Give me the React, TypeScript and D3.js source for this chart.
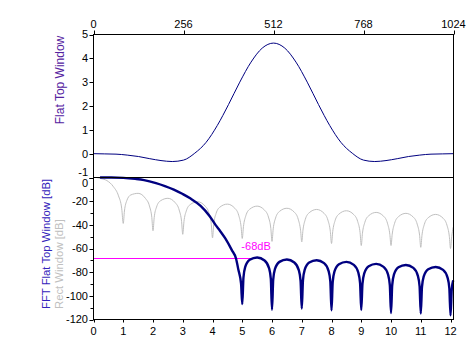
import React from 'react';
import * as d3 from 'd3';

// top panel: flat top window samples (n, value)
const windowN = [0, 32, 64, 96, 128, 160, 192, 224, 256, 288, 320, 352, 384, 416, 448, 480, 512,
  544, 576, 608, 640, 672, 704, 736, 768, 800, 832, 864, 896, 928, 960, 992, 1024];
const windowValues = [0, -0.01, -0.02, -0.06, -0.12, -0.21, -0.29, -0.33, -0.27, 0.02, 0.47, 1.18, 2.06, 3.0, 3.84, 4.43, 4.64,
  4.43, 3.84, 3.0, 2.06, 1.18, 0.47, 0.02, -0.27, -0.33, -0.29, -0.21, -0.12, -0.06, -0.02, -0.01, 0];

// bottom panel: rect window spectrum [bin, dB]
const rectSpectrum: [number, number][] = [
  [0.1, 0], [0.25, -0.9], [0.45, -2.6], [0.67, -7.8], [0.84, -15.5], [0.95, -26.5], [1, -38.8],
  [1.04, -28.3], [1.12, -19.5], [1.25, -14.8], [1.5, -13.4], [1.75, -17.8], [1.88, -24], [1.96, -33.8], [2, -45],
  [2.04, -33.9], [2.12, -24.9], [2.25, -19.7], [2.5, -17.6], [2.75, -21.4], [2.88, -27.5], [2.96, -37.1], [3, -48],
  [3.04, -37.3], [3.12, -28.2], [3.25, -22.9], [3.5, -20.5], [3.75, -24.1], [3.88, -30.1], [3.96, -39.6], [4, -51],
  [4.04, -39.6], [4.12, -30.4], [4.25, -25], [4.5, -22.5], [4.75, -26], [4.88, -31.9], [4.96, -41.4], [5, -51.5],
  [5.04, -41.5], [5.12, -32.3], [5.25, -26.8], [5.5, -24.2], [5.75, -27.6], [5.88, -33.4], [5.96, -43], [6, -54],
  [6.04, -43.4], [6.12, -34.2], [6.25, -28.7], [6.5, -26], [6.75, -29.3], [6.88, -35.2], [6.96, -44.6], [7, -54.4],
  [7.04, -44.5], [7.12, -35.3], [7.25, -29.8], [7.5, -27], [7.75, -30.3], [7.88, -36.1], [7.96, -45.5], [8, -55.8],
  [8.04, -45.7], [8.12, -36.4], [8.25, -30.9], [8.5, -28.1], [8.75, -31.4], [8.88, -37.2], [8.96, -46.6], [9, -57.5],
  [9.04, -47.1], [9.12, -37.9], [9.25, -32.3], [9.5, -29.5], [9.75, -32.7], [9.88, -38.6], [9.96, -48], [10, -57.5],
  [10.04, -47.9], [10.12, -38.7], [10.25, -33.1], [10.5, -30.3], [10.75, -33.5], [10.88, -39.4], [10.96, -48.8], [11, -59],
  [11.04, -48.9], [11.12, -39.6], [11.25, -34], [11.5, -31.2], [11.75, -34.4], [11.88, -40.3], [11.96, -49.7], [12, -60],
  [12.04, -50], [12.09, -42],
];

// bottom panel: flat top window spectrum [bin, dB]
const flatTopSpectrum: [number, number][] = [
  [0.22, 0], [0.6, 0], [1, -0.3], [1.4, -1.2], [1.7, -2.2], [2.1, -4.7], [2.4, -7.2], [2.7, -10.2], [3, -14],
  [3.25, -17.6], [3.6, -24], [3.9, -32.5], [4.1, -40], [4.25, -45], [4.43, -51.5], [4.65, -61.4], [4.79, -68.5],
  [4.87, -78], [4.96, -89.7], [5, -107],
  [5.04, -84.6], [5.1, -75.6], [5.25, -69.6], [5.5, -67.6], [5.75, -70.1], [5.9, -76.6], [5.96, -85.6], [6, -111.7],
  [6.04, -86.3], [6.1, -77.3], [6.25, -71.3], [6.5, -69.3], [6.75, -71.8], [6.9, -78.3], [6.96, -87.3], [7, -110.8],
  [7.04, -86.9], [7.1, -77.9], [7.25, -71.9], [7.5, -69.9], [7.75, -72.4], [7.9, -78.9], [7.96, -87.9], [8, -112.3],
  [8.04, -88.3], [8.1, -79.3], [8.25, -73.3], [8.5, -71.3], [8.75, -73.8], [8.9, -80.3], [8.96, -89.3], [9, -112],
  [9.04, -90], [9.1, -81], [9.25, -75], [9.5, -73], [9.75, -75.5], [9.9, -82], [9.96, -91], [10, -114.5],
  [10.04, -90.9], [10.1, -81.9], [10.25, -75.9], [10.5, -73.9], [10.75, -76.4], [10.9, -82.9], [10.96, -91.9], [11, -115],
  [11.04, -92.6], [11.1, -83.6], [11.25, -77.6], [11.5, -75.6], [11.75, -78.1], [11.9, -84.6], [11.96, -93.6], [12, -116.5],
  [12.04, -95], [12.09, -87],
];

const markerDb = -68;
const markerEndBin = 5.45;
const markerLabel = '-68dB';

const topTicks = [0, 256, 512, 768, 1024];
const topYTicks = [-1, 0, 1, 2, 3, 4, 5];
const botXTicks = [0, 1, 2, 3, 4, 5, 6, 7, 8, 9, 10, 11, 12];
const botYTicks = [0, -20, -40, -60, -80, -100, -120];
const botYMinor = [-10, -30, -50, -70, -90, -110];

const W = 471;
const H = 362;
const font = '"Liberation Sans", Arial, sans-serif';

export default function App() {
  const left = 93.5, right = 453.5;
  const topY = 34.5, midY = 177.5, botY = 319.5;

  const xTop = d3.scaleLinear().domain([0, 1024]).range([left, right]);
  const yTop = d3.scaleLinear().domain([-1, 5]).range([midY, topY]);
  const xBot = d3.scaleLinear().domain([0, 12.1]).range([left, right]);
  const yBot = d3.scaleLinear().domain([-120, 0]).range([botY, midY]);

  const windowLine = d3.line<number>()
    .x((_, i) => xTop(windowN[i]))
    .y(d => yTop(d))
    .curve(d3.curveMonotoneX);

  const specLine = d3.line<[number, number]>()
    .x(d => xBot(d[0]))
    .y(d => yBot(d[1]))
    .curve(d3.curveMonotoneX);

  // the "-1" and "0" labels meet at the panel border, so nudge them apart
  const labelShift = (t: number, panel: 'top' | 'bot') =>
    panel === 'top' && t === -1 ? -5.5 : panel === 'bot' && t === 0 ? 6 : 0;

  return (
    <svg width={W} height={H} style={{ position: 'absolute', left: 0, top: 0, background: '#fff' }}
      fontFamily={font}>
      {/* curves */}
      <path d={windowLine(windowValues) || ''} fill="none" stroke="#000080" strokeWidth={1} />
      <path d={specLine(rectSpectrum) || ''} fill="none" stroke="#c0c0c0" strokeWidth={1} />
      <line x1={left} x2={xBot(markerEndBin)} y1={Math.round(yBot(markerDb)) + 0.5} y2={Math.round(yBot(markerDb)) + 0.5}
        stroke="#ff00ff" strokeWidth={1} />
      <path d={specLine(flatTopSpectrum) || ''} fill="none" stroke="#000080" strokeWidth={2.4} strokeLinejoin="round" />
      <text x={xBot(4.97)} y={yBot(markerDb) - 8} fontSize={11} fill="#ff00ff">{markerLabel}</text>

      {/* frame */}
      <rect x={left} y={topY} width={right - left} height={botY - topY} fill="none" stroke="#000" strokeWidth={1} />
      <line x1={left} x2={right} y1={midY} y2={midY} stroke="#000" strokeWidth={1} />

      {/* top x axis */}
      {topTicks.map(t => (
        <g key={'tx' + t}>
          <line x1={Math.round(xTop(t)) + 0.5} x2={Math.round(xTop(t)) + 0.5} y1={topY} y2={topY - 4} stroke="#000" />
          <text x={xTop(t)} y={28} fontSize={11} textAnchor="middle" fill="#000">{t}</text>
        </g>
      ))}

      {/* top y axis */}
      {topYTicks.map(t => (
        <g key={'ty' + t}>
          <line x1={left} x2={left - 4} y1={Math.round(yTop(t)) + 0.5} y2={Math.round(yTop(t)) + 0.5} stroke="#000" />
          <text x={88} y={yTop(t) + labelShift(t, 'top')} dy="0.35em" fontSize={11} textAnchor="end" fill="#000">{t}</text>
        </g>
      ))}

      {/* bottom y axis */}
      {botYTicks.map(t => (
        <g key={'by' + t}>
          <line x1={left} x2={left - 4} y1={Math.round(yBot(t)) + 0.5} y2={Math.round(yBot(t)) + 0.5} stroke="#000" />
          <text x={88} y={yBot(t) + labelShift(t, 'bot')} dy="0.35em" fontSize={11} textAnchor="end" fill="#000">{t}</text>
        </g>
      ))}
      {botYMinor.map(t => (
        <line key={'bm' + t} x1={left} x2={left - 3} y1={Math.round(yBot(t)) + 0.5} y2={Math.round(yBot(t)) + 0.5} stroke="#000" />
      ))}

      {/* bottom x axis */}
      {botXTicks.map(t => (
        <g key={'bx' + t}>
          <line x1={Math.round(xBot(t)) + 0.5} x2={Math.round(xBot(t)) + 0.5} y1={botY} y2={botY + 3} stroke="#000" />
          <text x={xBot(t)} y={335} fontSize={11} textAnchor="middle" fill="#000">{t}</text>
        </g>
      ))}

      {/* axis titles */}
      <text transform="translate(64,80) rotate(-90)" textAnchor="middle" fontSize={12} fill="#55229f">Flat Top Window</text>
      <text transform="translate(50,309) rotate(-90)" textAnchor="start" fontSize={11.3} fill="#3322bb">FFT Flat Top Window [dB]</text>
      <text transform="translate(63,309) rotate(-90)" textAnchor="start" fontSize={11.3} fill="#c0c0c0">Rect Window [dB]</text>
    </svg>
  );
}
